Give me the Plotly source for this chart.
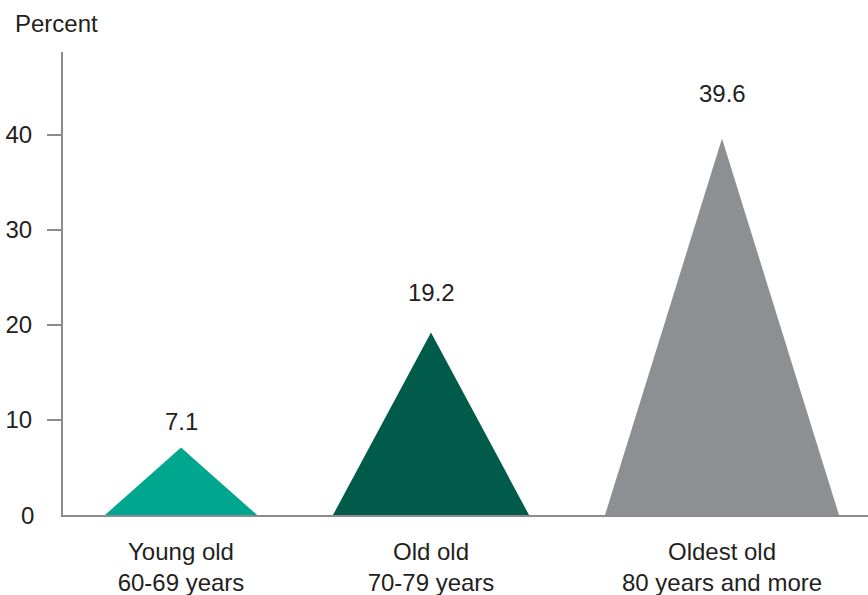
import plotly.graph_objects as go

# ---- data ----
categories = ["Young old<br>60-69 years", "Old old<br>70-79 years", "Oldest old<br>80 years and more"]
values = [7.1, 19.2, 39.6]
value_labels = ["7.1", "19.2", "39.6"]
y_ticks = [10, 20, 30, 40]
y_tick_labels = ["10", "20", "30", "40"]

# ---- styles / layout ----
colors = ["#00A68D", "#005B4B", "#8E8F93"]
centers = [118, 368, 659]          # horizontal position of each triangle (axis units)
half_widths = [76, 98, 117]        # half base width of each triangle (axis units)
label_shift = [26, 40, 45]         # px above the apex for value labels
FONT = "Liberation Sans, Arial, Helvetica, sans-serif"
TXT = "#231F20"
AX = "#8C8C8F"
FS = 24

fig = go.Figure()
for c, w, v, col in zip(centers, half_widths, values, colors):
    fig.add_trace(go.Scatter(
        x=[c - w, c, c + w, c - w],
        y=[0, v, 0, 0],
        mode="none",
        fill="toself",
        fillcolor=col,
        hoverinfo="skip",
        showlegend=False,
    ))

annotations = []
for c, v, t, s in zip(centers, values, value_labels, label_shift):
    annotations.append(dict(x=c, y=v, xref="x", yref="y", text=t, showarrow=False,
                            xanchor="center", yanchor="middle", yshift=s,
                            font=dict(family=FONT, size=FS, color=TXT)))
# zero label (no tick mark at zero in the original)
annotations.append(dict(x=0, y=0, xref="paper", yref="y", text="0", showarrow=False,
                        xanchor="right", yanchor="middle", xshift=-27,
                        font=dict(family=FONT, size=FS, color=TXT)))
# axis title
annotations.append(dict(x=0, y=1, xref="paper", yref="paper", text="Percent", showarrow=False,
                        xanchor="left", yanchor="middle", xshift=-50, yshift=29,
                        font=dict(family=FONT, size=FS, color=TXT)))

fig.update_layout(
    width=868, height=595,
    margin=dict(l=63, r=0, t=52, b=80),
    paper_bgcolor="white", plot_bgcolor="white",
    showlegend=False,
    annotations=annotations,
    xaxis=dict(range=[0, 805], showgrid=False, zeroline=False,
               showline=True, linecolor=AX, linewidth=2,
               tickvals=centers, ticktext=categories, ticks="",
               ticklabelstandoff=14,
               tickfont=dict(family=FONT, size=FS, color=TXT), fixedrange=True),
    yaxis=dict(range=[0, 48.7], showgrid=False, zeroline=False,
               showline=True, linecolor=AX, linewidth=2,
               tickvals=y_ticks, ticktext=y_tick_labels,
               ticks="outside", ticklen=14, tickwidth=2, tickcolor=AX,
               ticklabelstandoff=10,
               tickfont=dict(family=FONT, size=FS, color=TXT), fixedrange=True),
)

fig.write_html("out.html", config={"displayModeBar": False},
               post_script="document.body.style.margin='0px';document.body.style.padding='0px';")
